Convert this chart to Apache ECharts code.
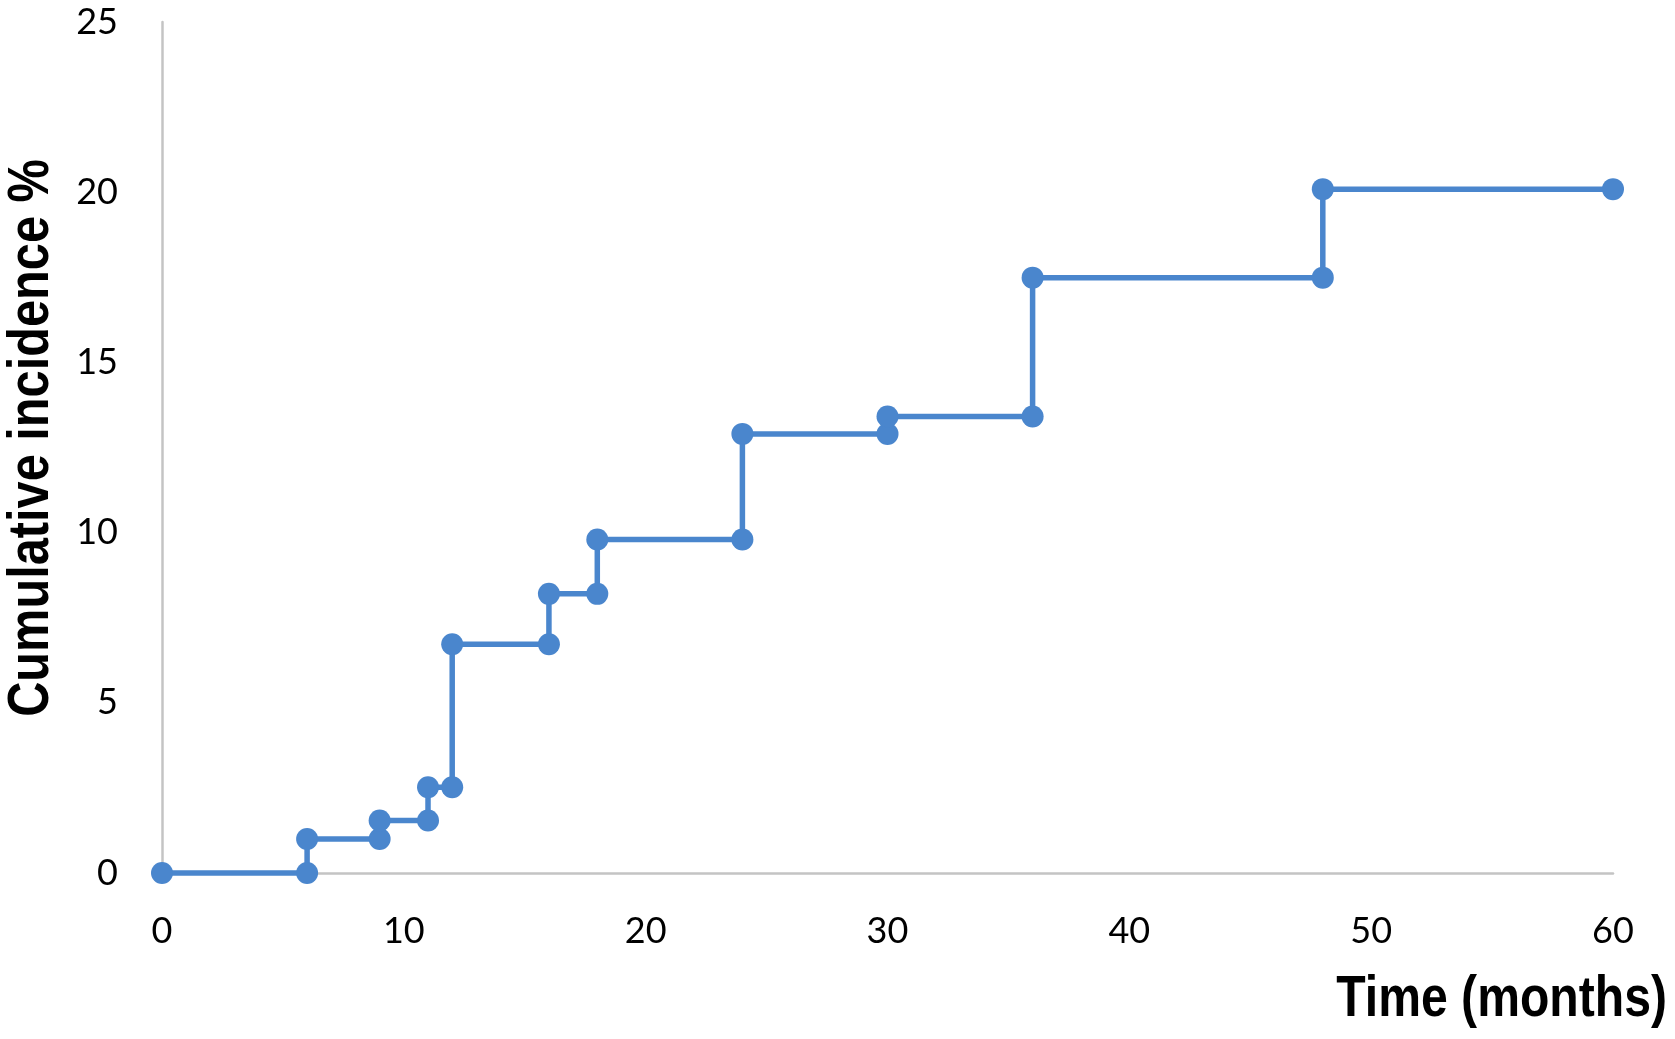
<!DOCTYPE html>
<html>
<head>
<meta charset="utf-8">
<script src="https://cdn.jsdelivr.net/npm/echarts@6/dist/echarts.min.js"></script>
<style>
html,body{margin:0;padding:0;background:#fff;}
#chart{width:1675px;height:1039px;}
</style>
</head>
<body>
<div id="chart"></div>
<script>
// Time (months) and cumulative incidence (%) — step points as drawn
const timeMonths = [0, 6, 6, 9, 9, 11, 11, 12, 12, 16, 16, 18, 18, 24, 24, 30, 30, 36, 36, 48, 48, 60];
const incidence  = [0, 0, 1.0, 1.0, 1.54, 1.54, 2.52, 2.52, 6.72, 6.72, 8.2, 8.2, 9.8, 9.8, 12.9, 12.9, 13.41, 13.41, 17.49, 17.49, 20.09, 20.09];
const xTicks = [0, 10, 20, 30, 40, 50, 60];
const yTicks = [0, 5, 10, 15, 20, 25];
const xTitle = 'Time (months)';
const yTitle = 'Cumulative incidence %';

const seriesData = timeMonths.map((t, i) => [t, incidence[i]]);
const chart = echarts.init(document.getElementById('chart'));
const numFont = 'Lato, "Open Sans", sans-serif';
const titleFont = '"Liberation Sans", Arial, sans-serif';

chart.setOption({
  backgroundColor: '#ffffff',
  animation: false,
  graphic: [
    {
      type: 'text',
      x: 1667,
      y: 1000,
      scaleX: 0.83,
      style: {
        text: xTitle,
        fontFamily: titleFont,
        fontWeight: 'bold',
        fontSize: 58,
        fill: '#000',
        align: 'right',
        verticalAlign: 'middle'
      }
    },
    {
      type: 'text',
      x: 32,
      y: 438,
      rotation: Math.PI / 2,
      scaleX: 0.84,
      style: {
        text: yTitle,
        fontFamily: titleFont,
        fontWeight: 'bold',
        fontSize: 58,
        fill: '#000',
        align: 'center',
        verticalAlign: 'middle'
      }
    }
  ],
  grid: {left: 162, right: 62, top: 22, bottom: 166, containLabel: false},
  xAxis: {
    type: 'value',
    min: xTicks[0],
    max: xTicks[xTicks.length - 1],
    interval: 10,
    axisLine: {show: true, onZero: false, lineStyle: {color: '#c4c4c4', width: 2.5}},
    axisTick: {show: false},
    splitLine: {show: false},
    axisLabel: {
      margin: 40,
      fontFamily: numFont,
      fontSize: 36,
      color: '#000',
      customValues: xTicks
    }
  },
  yAxis: {
    type: 'value',
    min: yTicks[0],
    max: yTicks[yTicks.length - 1],
    interval: 5,
    axisLine: {show: true, onZero: false, lineStyle: {color: '#c4c4c4', width: 2.5}},
    axisTick: {show: false},
    splitLine: {show: false},
    axisLabel: {
      margin: 44,
      fontFamily: numFont,
      fontSize: 36,
      color: '#000',
      customValues: yTicks
    }
  },
  series: [
    {
      type: 'line',
      data: seriesData,
      symbol: 'circle',
      symbolSize: 22,
      showAllSymbol: true,
      clip: false,
      lineStyle: {color: '#4A86CD', width: 5.5},
      itemStyle: {color: '#4A86CD'}
    }
  ]
});
</script>
</body>
</html>
